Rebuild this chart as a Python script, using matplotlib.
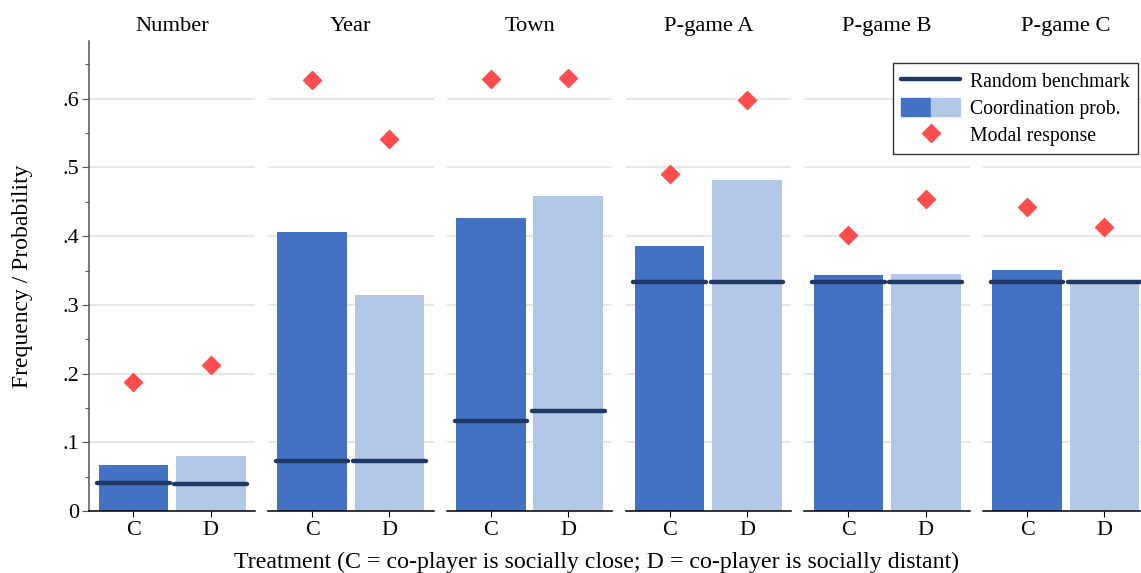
import numpy as np
import matplotlib
matplotlib.use("Agg")
import matplotlib.pyplot as plt
from matplotlib.patches import Rectangle
from matplotlib.lines import Line2D
from matplotlib.legend_handler import HandlerTuple

# Datos
games = ["Number", "Year", "Town", "P-game A", "P-game B", "P-game C"]
treatments = ["C", "D"]
coord_prob_C = [0.067, 0.406, 0.427, 0.385, 0.344, 0.351]
coord_prob_D = [0.080, 0.314, 0.459, 0.482, 0.345, 0.333]
benchmark_C = [0.041, 0.073, 0.131, 0.333, 0.333, 0.333]
benchmark_D = [0.039, 0.073, 0.146, 0.333, 0.333, 0.333]
modal_C = [0.188, 0.627, 0.628, 0.490, 0.402, 0.443]
modal_D = [0.213, 0.542, 0.630, 0.598, 0.454, 0.413]

dark_bar = "#4371C4"
light_bar = "#B3C8E7"
bench_col = "#1F3864"
modal_col = "#FF4D4D"

plt.rcParams["font.family"] = ["Liberation Serif", "DejaVu Serif"]

W, H = 1141, 573
fig = plt.figure(figsize=(W / 100, H / 100), dpi=100)

x0, period, pw = 89.3, 178.75, 165.5
y_zero, y_top = 511, 41
x = np.arange(len(treatments))

for i, game in enumerate(games):
    left = (x0 + i * period) / W
    ax = fig.add_axes([left, (H - y_zero) / H, pw / W, (y_zero - y_top) / H])
    vals = [coord_prob_C[i], coord_prob_D[i]]
    ax.bar(x, vals, width=0.9, color=[dark_bar, light_bar], zorder=2)
    bench = [benchmark_C[i], benchmark_D[i]]
    for xi, b in zip(x, bench):
        ax.plot([xi - 0.47, xi + 0.47], [b, b], color=bench_col, lw=3.2,
                solid_capstyle="round", zorder=3)
    ax.plot(x, [modal_C[i], modal_D[i]], linestyle="none", marker="D",
            ms=9, color=modal_col, zorder=4)

    ax.set_xlim(-0.57, 1.57)
    ax.set_ylim(0, 0.684)
    ax.set_xticks(x)
    ax.set_xticklabels(treatments, fontsize=16)
    ax.set_yticks(np.arange(0, 0.61, 0.1))
    ax.set_yticks(np.arange(0.05, 0.66, 0.1), minor=True)
    ax.yaxis.grid(True, which="major", color="#E0E0E0", lw=1.1, zorder=0)
    ax.set_axisbelow(True)
    ax.set_title(game, fontsize=16.2, pad=7)
    ax.tick_params(axis="x", length=4.3, width=0.8, pad=3)

    for s in ["top", "right"]:
        ax.spines[s].set_visible(False)
    ax.spines["bottom"].set_linewidth(1.1)
    if i == 0:
        ax.spines["left"].set_color("#555555")
        ax.spines["left"].set_linewidth(1.1)
        ax.set_yticklabels(["0", ".1", ".2", ".3", ".4", ".5", ".6"], fontsize=16)
        ax.tick_params(axis="y", which="major", length=5, width=0.8, pad=2,
                       color="#555555")
        ax.tick_params(axis="y", which="minor", length=3, width=0.8,
                       color="#555555")
        ax.set_ylabel("Frequency / Probability", fontsize=17)
        ax.yaxis.set_label_coords((33 - x0) / pw, 0.5)
    else:
        ax.spines["left"].set_visible(False)
        ax.tick_params(axis="y", which="both", left=False, labelleft=False)

fig.text(596 / W, 1 - 562 / H, "Treatment (C = co-player is socially close; "
         "D = co-player is socially distant)", ha="center", va="center",
         fontsize=17.2)

# Leyenda con la barra partida en dos tonos
h_line = Line2D([], [], color=bench_col, lw=3.2, solid_capstyle="round")
h_bars = (Rectangle((0, 0), 1, 1, color=dark_bar),
          Rectangle((0, 0), 1, 1, color=light_bar))
h_mod = Line2D([], [], linestyle="none", marker="D", ms=9, color=modal_col)
leg = fig.legend([h_line, h_bars, h_mod],
                 ["Random benchmark", "Coordination prob.", "Modal response"],
                 handler_map={tuple: HandlerTuple(ndivide=None, pad=0)},
                 loc="upper right", bbox_to_anchor=(1138 / W, 1 - 62.7 / H),
                 fontsize=14.2, fancybox=False, framealpha=1, edgecolor="#333333",
                 handlelength=3.0, handleheight=1.0, handletextpad=0.5,
                 labelspacing=0.33, borderpad=0.42, borderaxespad=0)
leg.get_frame().set_linewidth(1.0)

fig.savefig("out.png", dpi=100)
